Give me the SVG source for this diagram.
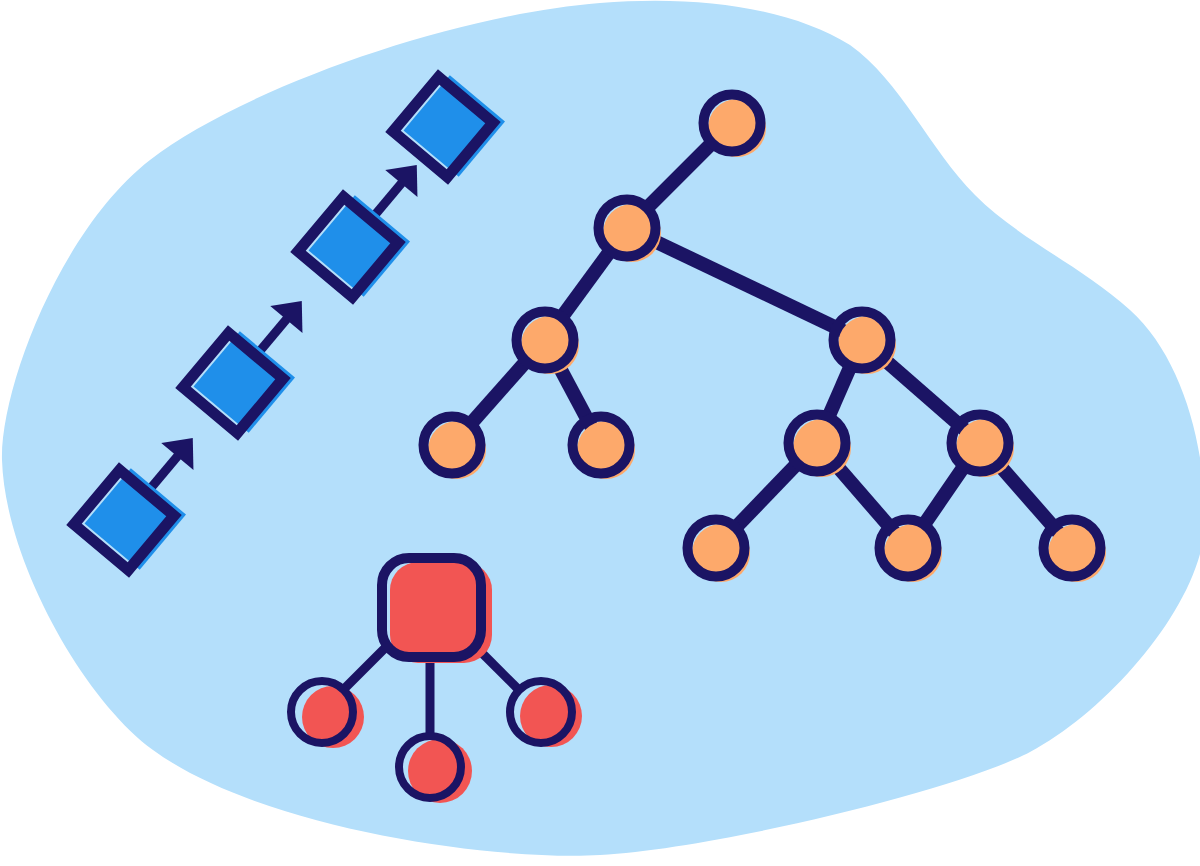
<svg xmlns="http://www.w3.org/2000/svg" width="1200" height="866" viewBox="0 0 1200 866">
<style>
.blob{fill:#b4dffb}
.ring{fill:none;stroke:#1b1464;stroke-width:10}
.ofill{fill:#fda96b}
.edge{stroke:#1b1464;stroke-width:14;fill:none}
.sq{fill:none;stroke:#1b1464;stroke-width:11}
.sqf{fill:#1f8fea}
.shaft{stroke:#1b1464;stroke-width:9;fill:none}
.head{fill:#1b1464}
.rfill{fill:#f25553}
.rring{fill:none;stroke:#1b1464;stroke-width:8}
.redge{stroke:#1b1464;stroke-width:9;fill:none}
</style>
<defs>
<g id="onode"><circle class="ofill" cx="5" cy="5" r="29"/><circle class="ring" r="28.5"/></g>
<g id="bsq"><rect class="sqf" x="-28" y="-44" width="72" height="72"/><rect class="sq" x="-35.5" y="-35.5" width="71" height="71"/></g>
<g id="arr"><line class="shaft" x1="0" y1="-40" x2="0" y2="-86"/><polygon class="head" points="0,-107 -21,-83 21,-83"/></g>
</defs>
<path class="blob" d="M600,3 C700,-5 790,8 850,45 C900,80 930,150 975,195 C1020,240 1080,265 1130,310 C1180,355 1205,440 1205,520 C1205,600 1110,710 1030,752 C960,789 720,848 600,855 C490,861 260,828 153,750 C83,699 5,560 2,460 C0,390 60,230 150,160 C240,90 450,15 600,3 Z"/>
<g id="connectors">
<line class="edge" x1="732" y1="123" x2="627" y2="228"/>
<line class="edge" x1="627" y1="228" x2="545" y2="340"/>
<line class="edge" x1="627" y1="228" x2="862" y2="340"/>
<line class="edge" x1="545" y1="340" x2="452" y2="445"/>
<line class="edge" x1="545" y1="340" x2="601" y2="445"/>
<line class="edge" x1="862" y1="340" x2="817" y2="443"/>
<line class="edge" x1="862" y1="340" x2="980" y2="443"/>
<line class="edge" x1="817" y1="443" x2="716" y2="548"/>
<line class="edge" x1="817" y1="443" x2="908" y2="548"/>
<line class="edge" x1="980" y1="443" x2="908" y2="548"/>
<line class="edge" x1="980" y1="443" x2="1072" y2="548"/>
<use href="#arr" transform="translate(124,520) rotate(40)"/>
<use href="#arr" transform="translate(233,383) rotate(40)"/>
<use href="#arr" transform="translate(348,247) rotate(40)"/>
<line class="redge" x1="388" y1="645" x2="343" y2="690"/>
<line class="redge" x1="430" y1="660" x2="430" y2="737"/>
<line class="redge" x1="481" y1="652" x2="519" y2="690"/>
</g>
<g id="sq1"><use href="#bsq" transform="translate(124,520) rotate(40)"/></g>
<g id="sq2"><use href="#bsq" transform="translate(233,383) rotate(40)"/></g>
<g id="sq3"><use href="#bsq" transform="translate(348,247) rotate(40)"/></g>
<g id="sq4"><use href="#bsq" transform="translate(443,127) rotate(40)"/></g>
<g id="t1"><use href="#onode" x="732" y="123"/></g>
<g id="t2"><use href="#onode" x="627" y="228"/></g>
<g id="t3"><use href="#onode" x="545" y="340"/></g>
<g id="t4"><use href="#onode" x="862" y="340"/></g>
<g id="t5"><use href="#onode" x="452" y="445"/></g>
<g id="t6"><use href="#onode" x="601" y="445"/></g>
<g id="t7"><use href="#onode" x="817" y="443"/></g>
<g id="t8"><use href="#onode" x="980" y="443"/></g>
<g id="t9"><use href="#onode" x="716" y="548"/></g>
<g id="t10"><use href="#onode" x="908" y="548"/></g>
<g id="t11"><use href="#onode" x="1072" y="548"/></g>
<g id="hub"><rect class="rfill" x="390" y="562" width="102" height="101" rx="28"/><rect class="rring" x="382" y="558" width="99" height="99" rx="27" style="stroke-width:10"/></g>
<g id="r1"><circle class="rfill" cx="333" cy="717" r="31"/><circle class="rring" cx="322" cy="712" r="31"/></g>
<g id="r2"><circle class="rfill" cx="440" cy="771" r="32"/><circle class="rring" cx="430" cy="767" r="31"/></g>
<g id="r3"><circle class="rfill" cx="551" cy="716" r="31"/><circle class="rring" cx="541" cy="712" r="31"/></g>
</svg>
